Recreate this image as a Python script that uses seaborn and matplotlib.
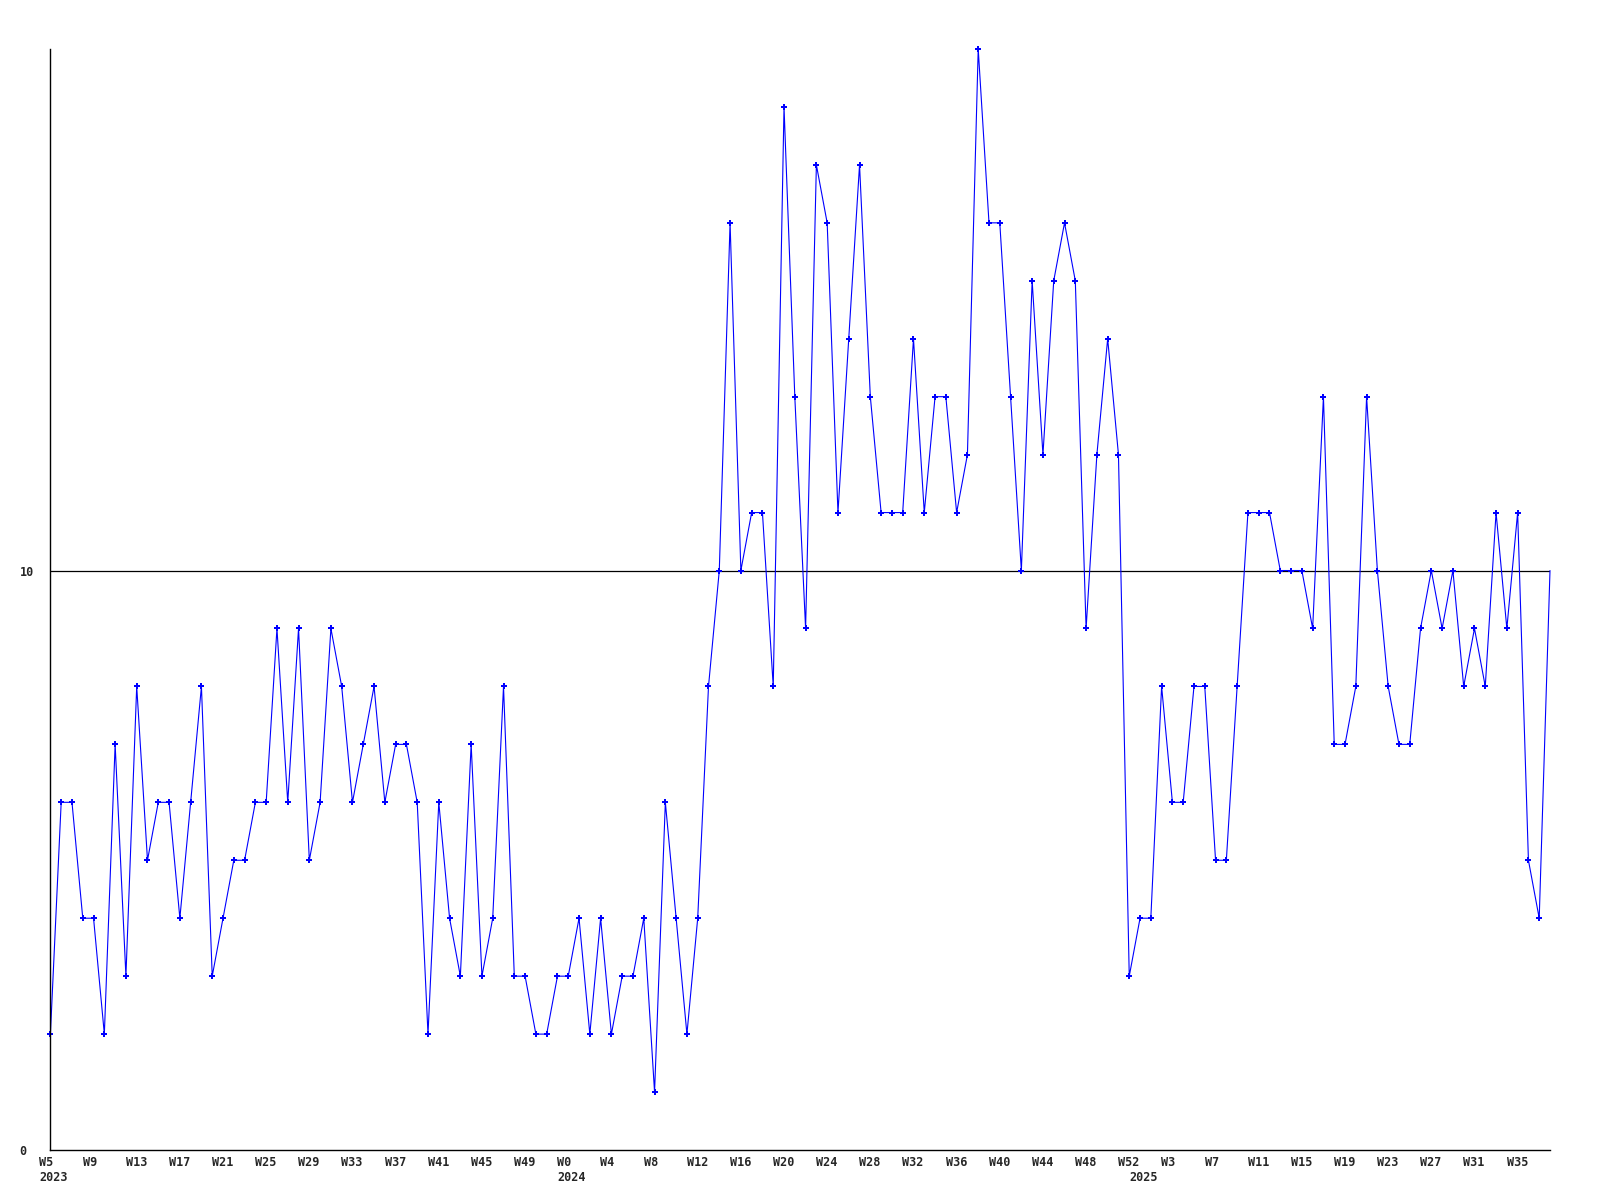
import numpy as np
import pandas as pd
import matplotlib
matplotlib.use("Agg")
import matplotlib.pyplot as plt
import matplotlib.transforms as mtransforms
import seaborn as sns

# weekly counts, 2023 W5 .. 2025 W38
counts = [2, 6, 6, 4, 4, 2, 7, 3, 8, 5, 6, 6, 4, 6, 8, 3, 4, 5, 5, 6,
          6, 9, 6, 9, 5, 6, 9, 8, 6, 7, 8, 6, 7, 7, 6, 2, 6, 4, 3, 7,
          3, 4, 8, 3, 3, 2, 2, 3, 3, 4, 2, 4, 2, 3, 3, 4, 1, 6, 4, 2,
          4, 8, 10, 16, 10, 11, 11, 8, 18, 13, 9, 17, 16, 11, 14, 17, 13, 11, 11, 11,
          14, 11, 13, 13, 11, 12, 19, 16, 16, 13, 10, 15, 12, 15, 16, 15, 9, 12, 14, 12,
          3, 4, 4, 8, 6, 6, 8, 8, 5, 5, 8, 11, 11, 11, 10, 10, 10, 9, 13, 7,
          7, 8, 13, 10, 8, 7, 7, 9, 10, 9, 10, 8, 9, 8, 11, 9, 11, 5, 4, 10]

years = ["2023", "2024", "2025"]
weeks_2023 = list(range(5, 53))
weeks_2024 = list(range(0, 53))
weeks_2025 = list(range(0, 39))
y_ticks = [0, 10]

week_nums = weeks_2023 + weeks_2024 + weeks_2025
year_start = [0, len(weeks_2023), len(weeks_2023) + len(weeks_2024)]

df = pd.DataFrame({"idx": np.arange(len(counts)), "count": counts})

sns.set_style("white")
plt.rcParams["font.family"] = ["DejaVu Sans Mono"]
plt.rcParams["font.weight"] = "bold"

fig = plt.figure(figsize=(16, 12), dpi=100)
ax = fig.add_axes([50.4 / 1600, 50 / 1200, (1550 - 50.4) / 1600, (1150 - 49) / 1200])

# last week is still running, no marker on it
sns.lineplot(data=df, x="idx", y="count", color="#0000ff", linewidth=0.8,
             marker="P", markersize=4, markeredgewidth=0,
             markevery=list(range(len(counts) - 1)), clip_on=False, ax=ax)
ax.axhline(10, color="black", linewidth=0.9, zorder=1)

ax.set_xlim(0, len(counts) - 1)
ax.set_ylim(0, 19)
for s in ["top", "right"]:
    ax.spines[s].set_visible(False)
for s in ["left", "bottom"]:
    ax.spines[s].set_color("black")
    ax.spines[s].set_linewidth(1.0)
ax.set_xlabel("")
ax.set_ylabel("")

# x ticks every 4 weeks, labels left aligned a bit before the week
tick_idx = list(range(0, len(counts), 4))
ax.set_xticks(tick_idx)
ax.set_xticklabels(["W%d" % week_nums[i] for i in tick_idx], fontsize=8.5, fontweight="bold")
ax.tick_params(axis="x", length=0, pad=4.5)
shift = mtransforms.ScaledTranslation(-11 / 100, 0, fig.dpi_scale_trans)
for lbl in ax.get_xticklabels():
    lbl.set_ha("left")
    lbl.set_transform(lbl.get_transform() + shift)

for yr, i in zip(years, year_start):
    ax.annotate(yr, xy=(i, 0), xycoords=("data", "axes fraction"),
                xytext=(-11, -21), textcoords="offset pixels",
                ha="left", va="top", fontsize=8.5, fontweight="bold")

ax.set_yticks(y_ticks)
ax.set_yticklabels([str(v) for v in y_ticks], fontsize=8.5, fontweight="bold")
ax.tick_params(axis="y", length=0, pad=22.3)
for lbl in ax.get_yticklabels():
    lbl.set_ha("left")

fig.savefig("out.png", dpi=100)
